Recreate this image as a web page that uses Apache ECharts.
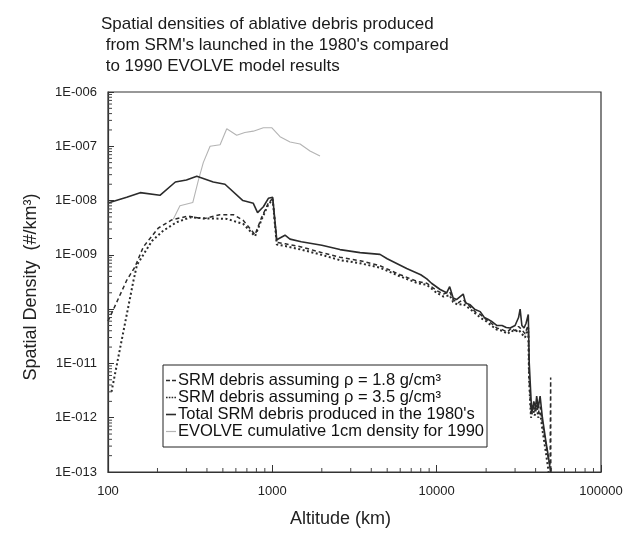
<!DOCTYPE html>
<html><head><meta charset="utf-8">
<script src="https://cdn.jsdelivr.net/npm/echarts@6/dist/echarts.min.js"></script>
<style>html,body{margin:0;padding:0;background:#fff}#c{width:626px;height:533px}</style>
</head><body><div id="c"></div>
<script>
// ---- data ----
const xTickValues = [100, 1000, 10000, 100000];
const xTickLabels = ['100', '1000', '10000', '100000'];
const yTickLabels = ['1E-013','1E-012','1E-011','1E-010','1E-009','1E-008','1E-007','1E-006'];

const totalAlt = [100,130,157,207,257,300,347,437,515,662,766,813,882,946,1005,1064,1194,1281,1500,2000,2580,3420,4520,5000,6570,8000,8710,9300,
  10500,11500,12000,12600,13200,14500,15000,16000,17000,18400,19500,20500,21500,23200,25000,26500,28000,30000,31500,32200,33000,34000,35000,36100,36600,37900,39000,40000,40600,41500,42600,44000,46000,48000,49300];
const totalDens = [9.0e-9,1.15e-8,1.4e-8,1.25e-8,2.2e-8,2.4e-8,2.8e-8,2.2e-8,2.0e-8,1.0e-8,8.9e-9,6.0e-9,7.7e-9,1.1e-8,1.15e-8,1.9e-9,2.3e-9,1.95e-9,1.75e-9,1.5e-9,1.25e-9,1.1e-9,1.02e-9,8.5e-10,5.6e-10,4.3e-10,3.6e-10,3.0e-10,
  2.3e-10,2.0e-10,2.6e-10,1.6e-10,1.5e-10,1.9e-10,1.3e-10,1.2e-10,1.0e-10,9e-11,7e-11,6.5e-11,6e-11,5e-11,5e-11,4.6e-11,4.5e-11,5e-11,7e-11,1.0e-10,5e-11,4.5e-11,5.5e-11,8e-11,1.0e-11,1.2e-12,2.0e-12,1.5e-12,2.5e-12,1.5e-12,2.5e-12,1.0e-12,4e-13,1.8e-13,1e-13];

const rho18Alt = [100,130,146,164,202,244,308,380,479,579,666,785,861,946,1005,1064,1200,1500,2000,2580,3420,4520,6000,7700,8710,
  10000,11000,12000,12600,13500,14500,16000,17500,18400,20000,21500,23200,25000,27000,28500,30000,31500,33000,34500,35500,36100,36500,37500,38500,39500,40600,41500,42600,44000,46000,47500,49000,49400,49500];
const rho18Dens = [6.0e-11,3.4e-10,6e-10,1.4e-9,3.1e-9,4.4e-9,5.2e-9,4.6e-9,5.5e-9,5.5e-9,4.3e-9,2.35e-9,4.9e-9,9e-9,1.1e-8,1.7e-9,1.6e-9,1.4e-9,1.1e-9,9e-10,7.8e-10,6.3e-10,4.3e-10,3.2e-10,3.0e-10,
  2.2e-10,1.9e-10,2.1e-10,1.5e-10,1.3e-10,1.5e-10,1.1e-10,8.5e-11,8e-11,6.5e-11,5.5e-11,4.5e-11,4.2e-11,3.8e-11,4.5e-11,4.0e-11,4.8e-11,4.2e-11,3.5e-11,4.5e-11,5.0e-11,6e-12,1.2e-12,1.8e-12,1.3e-12,2.0e-12,1.2e-12,1.6e-12,8e-13,3.5e-13,2e-13,1.3e-13,5.5e-12,1e-13];

const rho35Alt = [105,143,150,185,217,262,316,400,528,666,785,861,946,1005,1064,1200,1500,2000,2580,3420,4520,6000,7700,8710,
  10000,11000,12000,12600,13500,14500,16000,17500,18400,20000,21500,23200,25000,27000,28500,30000,31500,33000,34500,35500,36100,36500,37500,38500,39500,40600,41500,42600,44000,46000,48000];
const rho35Dens = [3e-12,3.4e-10,6.5e-10,1.8e-9,2.8e-9,4.0e-9,4.9e-9,4.7e-9,4.6e-9,3.7e-9,2.2e-9,4.5e-9,8.5e-9,1.05e-8,1.55e-9,1.45e-9,1.25e-9,1.0e-9,8.0e-10,7.0e-10,5.8e-10,4.0e-10,3.0e-10,2.8e-10,
  2.0e-10,1.7e-10,1.8e-10,1.35e-10,1.2e-10,1.25e-10,1.0e-10,8e-11,7e-11,6e-11,5e-11,4.2e-11,4.0e-11,3.5e-11,4.0e-11,3.8e-11,4.2e-11,3.5e-11,3.0e-11,4.0e-11,4.5e-11,5e-12,1.0e-12,1.5e-12,1.1e-12,1.7e-12,1.0e-12,1.3e-12,6e-13,2.5e-13,1e-13];

const evolveAlt = [250,274,328,354,380,418,481,528,607,680,766,882,991,1114,1282,1475,1695,1950];
const evolveDens = [4.6e-9,8e-9,9.2e-9,2.3e-8,5e-8,1e-7,1.07e-7,2.1e-7,1.6e-7,1.8e-7,1.9e-7,2.2e-7,2.2e-7,1.5e-7,1.2e-7,1.1e-7,8.2e-8,6.6e-8];

const seriesNames = [
  'SRM debris assuming ρ = 1.8 g/cm³',
  'SRM debris assuming ρ = 3.5 g/cm³',
  "Total SRM debris produced in the 1980's",
  'EVOLVE cumulative 1cm density for 1990'
];
const titleLines = ['Spatial densities of ablative debris produced', " from SRM's launched in the 1980's compared", ' to 1990 EVOLVE model results'];

// minor tick positions (2..9 per decade)
const minorMult = [2,3,4,5,6,7,8,9];
const yDecades = [-13,-12,-11,-10,-9,-8,-7];
const xDecades = [2,3,4];

// ---- build ----
const pairs = (a, b) => a.map((v, i) => [v, b[i]]);
const yMinor = [];
yDecades.forEach(e => minorMult.forEach(m => yMinor.push([100, m * Math.pow(10, e)])));
const xMinor = [];
xDecades.forEach(e => minorMult.forEach(m => xMinor.push([m * Math.pow(10, e), 1e-13])));

const legendIcons = [
  'path://M0,0h4v1.6h-4z M6,0h4v1.6h-4z',
  'path://M0,0h1.6v1.6h-1.6z M2.8,0h1.6v1.6h-1.6z M5.6,0h1.6v1.6h-1.6z M8.4,0h1.6v1.6h-1.6z',
  'path://M0,0h10v1.6h-10z',
  'path://M0,0h10v1.2h-10z'
];

const FONT = 'Liberation Sans';
const chart = echarts.init(document.getElementById('c'), null, {renderer: 'canvas'});
chart.setOption({
  animation: false,
  backgroundColor: '#fff',
  textStyle: {fontFamily: FONT},
  title: {
    text: titleLines.join('\n'),
    left: 96, top: 9,
    textStyle: {fontFamily: FONT, fontSize: 17, fontWeight: 'normal', color: '#1a1a1a', lineHeight: 21}
  },
  grid: {left: 108, right: 25, top: 92, bottom: 58, show: true, borderColor: '#333', borderWidth: 1.2, backgroundColor: 'transparent'},
  legend: {
    orient: 'vertical', left: 163, top: 365,
    data: seriesNames.map((n, i) => ({name: n, icon: legendIcons[i]})),
    backgroundColor: '#fff', borderColor: '#222', borderWidth: 1,
    padding: [7, 3, 7, 3], itemGap: 0, itemWidth: 10, itemHeight: 2,
    textStyle: {fontFamily: FONT, fontSize: 16.5, color: '#111', padding: [0,0,0,-3]},
    selectedMode: false
  },
  xAxis: {
    type: 'log', logBase: 10, min: 100, max: 100000,
    name: 'Altitude (km)', nameLocation: 'middle', nameGap: 38,
    nameTextStyle: {fontFamily: FONT, fontSize: 18, color: '#222', padding: [0, 28, 0, 0]},
    axisLine: {show: true, lineStyle: {color: '#333', width: 1.2}},
    axisTick: {show: true, inside: true, length: 7, lineStyle: {color: '#333'}},
    splitLine: {show: false},
    axisLabel: {fontFamily: FONT, fontSize: 13, color: '#222', margin: 13,
      formatter: v => { const i = xTickValues.findIndex(t => Math.abs(Math.log10(t) - Math.log10(v)) < 1e-6); return i >= 0 ? xTickLabels[i] : ''; }}
  },
  yAxis: {
    type: 'log', logBase: 10, min: 1e-13, max: 1e-6,
    name: 'Spatial Density  (#/km³)', nameLocation: 'middle', nameGap: 68,
    nameTextStyle: {fontFamily: FONT, fontSize: 18, color: '#222', padding: [0, 10, 0, 0]},
    axisLine: {show: true, lineStyle: {color: '#333', width: 1.2}},
    axisTick: {show: true, inside: true, length: 6, lineStyle: {color: '#333'}},
    splitLine: {show: false},
    axisLabel: {fontFamily: FONT, fontSize: 13, color: '#222', margin: 11,
      formatter: v => { const e = Math.round(Math.log10(v)); return yTickLabels[e + 13] || ''; }}
  },
  series: [
    {name: seriesNames[0], type: 'line', data: pairs(rho18Alt, rho18Dens), showSymbol: false, symbol: 'none',
      lineStyle: {color: '#2b2b2b', width: 1.5, type: [4, 3]}, itemStyle: {color: '#2b2b2b'}, z: 3},
    {name: seriesNames[1], type: 'line', data: pairs(rho35Alt, rho35Dens), showSymbol: false, symbol: 'none',
      lineStyle: {color: '#2b2b2b', width: 2, type: [2, 2.5]}, itemStyle: {color: '#2b2b2b'}, z: 3},
    {name: seriesNames[2], type: 'line', data: pairs(totalAlt, totalDens), showSymbol: false, symbol: 'none',
      lineStyle: {color: '#2b2b2b', width: 1.6}, itemStyle: {color: '#2b2b2b'}, z: 4},
    {name: seriesNames[3], type: 'line', data: pairs(evolveAlt, evolveDens), showSymbol: false, symbol: 'none',
      lineStyle: {color: '#b4b4b4', width: 1.1}, itemStyle: {color: '#b4b4b4'}, z: 2},
    {type: 'custom', name: 'yminor', data: yMinor, clip: false, silent: true, z: 5,
      renderItem: (p, api) => { const c = api.coord([api.value(0), api.value(1)]);
        return {type: 'line', shape: {x1: c[0], y1: c[1], x2: c[0] + 4, y2: c[1]}, style: {stroke: '#444', lineWidth: 1}}; }},
    {type: 'custom', name: 'xminor', data: xMinor, clip: false, silent: true, z: 5,
      renderItem: (p, api) => { const c = api.coord([api.value(0), api.value(1)]);
        return {type: 'line', shape: {x1: c[0], y1: c[1], x2: c[0], y2: c[1] - 4}, style: {stroke: '#444', lineWidth: 1}}; }}
  ]
});
</script></body></html>
